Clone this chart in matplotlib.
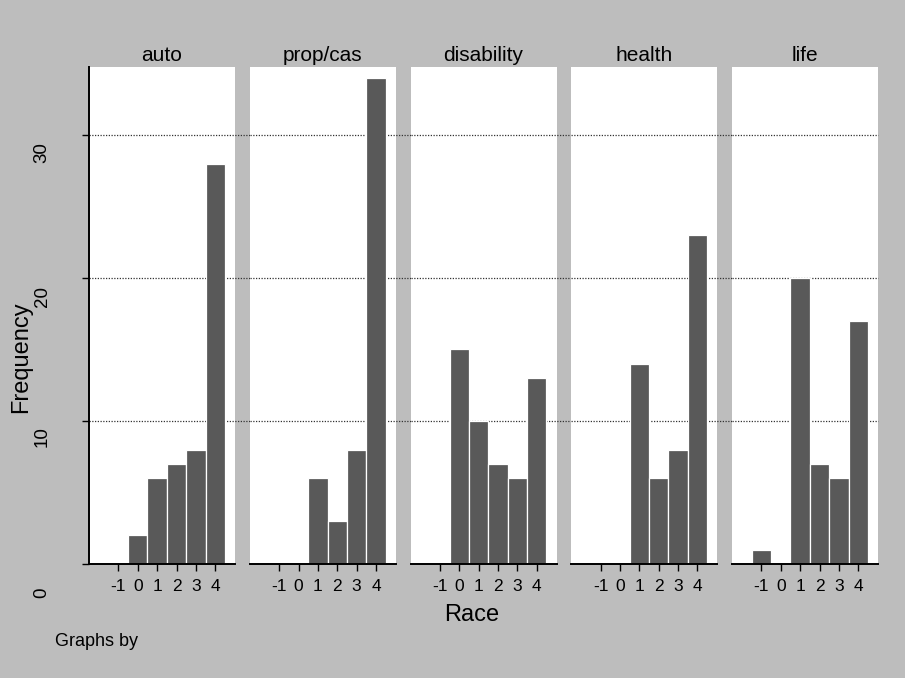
import matplotlib
matplotlib.use("Agg")
import matplotlib.pyplot as plt
from matplotlib.transforms import ScaledTranslation

plt.rcParams['font.family'] = ['Liberation Sans', 'DejaVu Sans']

# Frequency of each race code, by insurance line
race = [-1, 0, 1, 2, 3, 4]
panels = ['auto', 'prop/cas', 'disability', 'health', 'life']
auto = [0, 2, 6, 7, 8, 28]
prop_cas = [0, 0, 6, 3, 8, 34]
disability = [0, 15, 10, 7, 6, 13]
health = [0, 0, 14, 6, 8, 23]
life = [1, 0, 20, 7, 6, 17]
counts = [auto, prop_cas, disability, health, life]
yticks = [0, 10, 20, 30]

bg = '#bdbdbd'
bar_color = '#595959'

fig = plt.figure(figsize=(9.05, 6.78), dpi=100, facecolor=bg)
W, H = 905, 678
left0, step, pw = 89, 160.75, 146
top, bottom = 67, 564

for i, (name, vals) in enumerate(zip(panels, counts)):
    left = left0 + i * step
    ax = fig.add_axes([left / W, 1 - bottom / H, pw / W, (bottom - top) / H])
    ax.set_facecolor('white')
    ax.bar(race, vals, width=1.0, color=bar_color, edgecolor='white',
           linewidth=0.9, zorder=3)
    ax.set_xlim(-2.52, 5.02)
    ax.set_ylim(0, 34.75)

    # dotted reference lines run across the gap to the next panel
    ext = 1 + (step - pw) / pw if i < len(panels) - 1 else 1
    for y in yticks[1:]:
        ax.axhline(y, xmin=0, xmax=ext, color='#333333', lw=0.9,
                   ls=(0, (1, 1.2)), clip_on=False, zorder=1)

    for s in ['top', 'right']:
        ax.spines[s].set_visible(False)
    ax.spines['bottom'].set_linewidth(1.4)
    ax.spines['bottom'].set_zorder(4)

    ax.set_xticks(race)
    ax.set_xticklabels([str(r) for r in race], fontsize=12.5)
    ax.tick_params(axis='x', direction='out', length=5, width=1, pad=6)

    if i == 0:
        ax.spines['left'].set_linewidth(1.4)
        ax.set_yticks(yticks)
        ax.set_yticklabels([])
        ax.tick_params(axis='y', direction='out', length=5, width=1)
        drops = {0: 29, 10: 16, 20: 19, 30: 18}
        for y in yticks:
            off = ScaledTranslation(0, -drops[y] / 100, fig.dpi_scale_trans)
            ax.text(-47 / pw, y, str(y), transform=ax.get_yaxis_transform() + off,
                    rotation=90, ha='center', va='center', fontsize=13.5)
    else:
        ax.spines['left'].set_visible(False)
        ax.set_yticks([])

    ax.set_title(name, fontsize=15, pad=4)

fig.text(472 / W, 1 - 615 / H, 'Race', fontsize=17, ha='center', va='center')
fig.text(21 / W, 1 - 357 / H, 'Frequency', fontsize=17, rotation=90,
         ha='center', va='center')
fig.text(55 / W, 1 - 642 / H, 'Graphs by', fontsize=13, ha='left', va='center')

fig.savefig('out.png', dpi=100, facecolor=bg)
